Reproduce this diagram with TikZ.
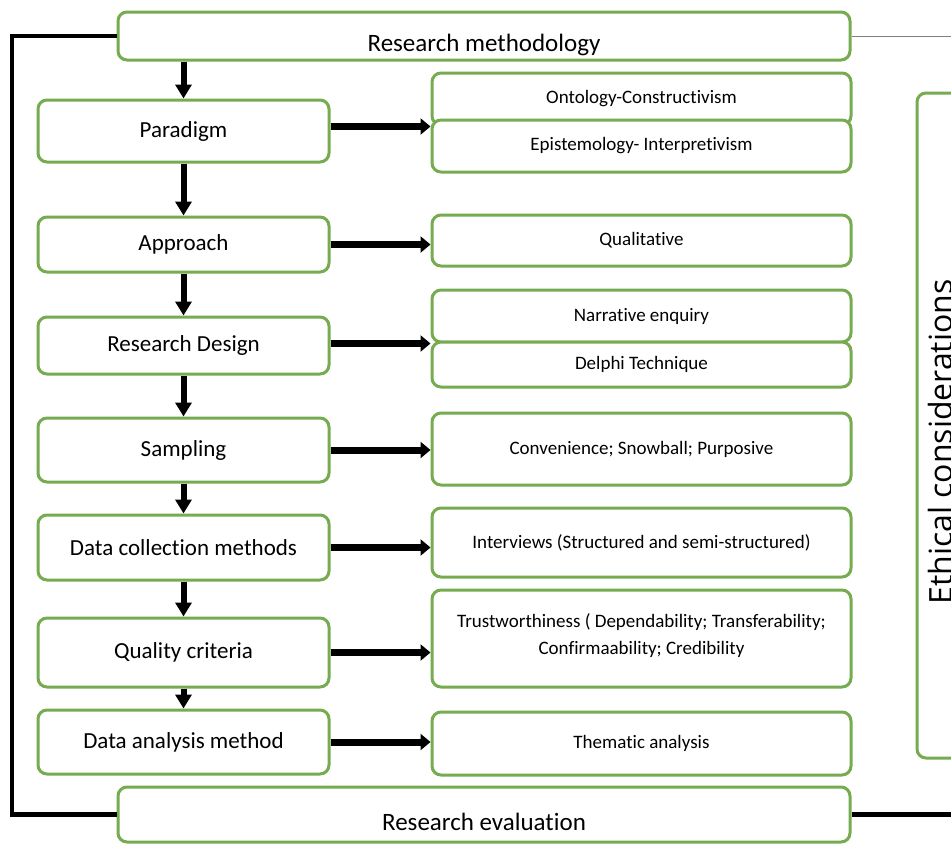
\documentclass[tikz,border=0pt]{standalone}
\usepackage{fontspec}
\setmainfont{Carlito}[Ligatures=CommonOff]
\newfontfamily\ethfont{Open Sans}
\usetikzlibrary{arrows.meta}
\definecolor{boxgreen}{RGB}{118,171,80}

\begin{document}
\begin{tikzpicture}[x=1pt, y=-1pt,
    box/.style={draw=boxgreen, line width=3pt, rounded corners=9pt, fill=white,
      inner sep=0pt, align=center},
    lbox/.style={box, minimum width=291pt, font=\fontsize{23}{26}\selectfont},
    rbox/.style={box, minimum width=419pt, font=\fontsize{19}{27}\selectfont},
    wbox/.style={box, minimum width=732pt, font=\fontsize{25}{28}\selectfont,
      text height=30pt, text depth=0pt},
    harrow/.style={-{Triangle[length=10pt,width=16pt]}, line width=7pt},
    varrow/.style={-{Triangle[length=14pt,width=16pt]}, line width=6pt},
    fbline/.style={line width=4.5pt}]

  % Kader
  \useasboundingbox (0,0) rectangle (951,844);
  \fill[white] (0,0) rectangle (951,844);
  \clip (0,0) rectangle (951,844);

  % Hulppunten voor de randlijnen
  \coordinate (lft) at (12,430);
  \coordinate (rgt) at (970,430);

  % Boven- en onderbalk
  \node[wbox, minimum height=48pt] (method) at (484,36) {Research methodology};
  \node[wbox, minimum height=55pt, text height=32pt] (eval) at (484,814.5) {Research evaluation};

  % Ethiek (rechts, afgesneden)
  \node[box, minimum width=73pt, minimum height=665pt] (ethbox) at (953.5,425.5) {};
  \node[rotate=90, anchor=base, font=\ethfont\fontsize{32}{36}\selectfont]
    (ethtxt) at (952,442) {Ethical considerations};

  % Stappen links
  \node[lbox, minimum height=62pt] (para) at (183.5,131)   {Paradigm};
  \node[lbox, minimum height=55pt] (appr) at (183.5,244.5) {Approach};
  \node[lbox, minimum height=57pt] (rdes) at (183.5,345.5) {Research Design};
  \node[lbox, minimum height=64pt] (samp) at (183.5,450)   {Sampling};
  \node[lbox, minimum height=65pt] (dcol) at (183.5,547.5) {Data collection methods};
  \node[lbox, minimum height=69pt] (qual) at (183.5,652.5) {Quality criteria};
  \node[lbox, minimum height=64pt] (dana) at (183.5,742)   {Data analysis method};

  % Keuzes rechts
  \node[rbox, minimum height=52pt] (onto)  at (641.5,99)    {Ontology-Constructivism};
  \node[rbox, minimum height=52pt] (epis)  at (641.5,146)   {Epistemology- Interpretivism};
  \node[rbox, minimum height=51pt] (qlt)   at (641.5,240.5) {Qualitative};
  \node[rbox, minimum height=52pt] (narr)  at (641.5,316)   {Narrative enquiry};
  \node[rbox, minimum height=45pt] (delp)  at (641.5,364.5) {Delphi Technique};
  \node[rbox, minimum height=72pt] (conv)  at (641.5,449)   {Convenience; Snowball; Purposive};
  \node[rbox, minimum height=69pt] (intv)  at (641.5,542.5) {Interviews (Structured and semi-structured)};
  \node[rbox, minimum height=97pt, text height=40pt, text depth=8pt] (trust) at (641.5,638.5)
    {Trustworthiness ( Dependability; Transferability;\\ Confirmaability; Credibility};
  \node[rbox, minimum height=63pt] (them)  at (641.5,743.5) {Thematic analysis};

  % Terugkoppeling
  \draw[fbline] (method.west) -- (method.west -| lft) -- (eval.west -| lft) -- (eval.west);
  \draw[gray, line width=1pt] (method.east) -- (method.east -| rgt);
  \draw[fbline] (eval.east) -- (eval.east -| rgt);

  % Pijlen omlaag
  \draw[varrow] (para.north |- method.south) -- (para.north);
  \draw[varrow] (para.south) -- (appr.north);
  \draw[varrow] (appr.south) -- (rdes.north);
  \draw[varrow] (rdes.south) -- (samp.north);
  \draw[varrow] (samp.south) -- (dcol.north);
  \draw[varrow] (dcol.south) -- (qual.north);
  \draw[varrow] (qual.south) -- (dana.north);

  % Pijlen naar rechts
  \draw[harrow] (para.east |- onto.south west) -- (onto.south west);
  \draw[harrow] (appr.east) -- (appr.east -| qlt.west);
  \draw[harrow] (rdes.east |- narr.south west) -- (narr.south west);
  \draw[harrow] (samp.east) -- (samp.east -| conv.west);
  \draw[harrow] (dcol.east) -- (dcol.east -| intv.west);
  \draw[harrow] (qual.east) -- (qual.east -| trust.west);
  \draw[harrow] (dana.east) -- (dana.east -| them.west);

\end{tikzpicture}
\end{document}
